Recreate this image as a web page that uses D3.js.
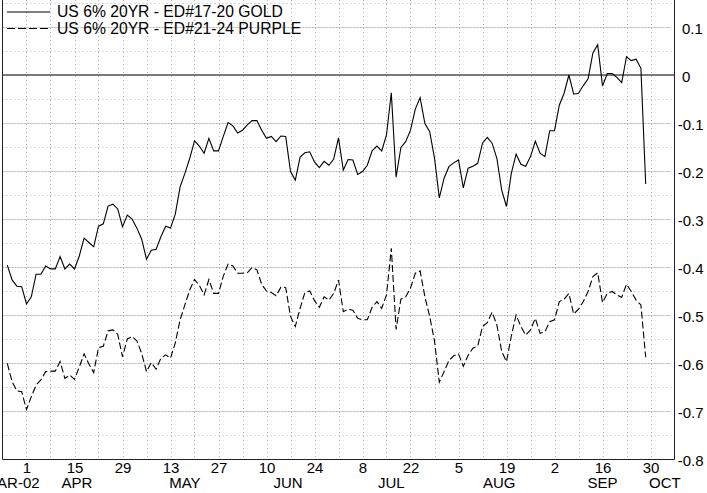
<!DOCTYPE html>
<html>
<head>
<meta charset="utf-8">
<script src="https://cdn.jsdelivr.net/npm/d3@7"></script>
<style>
body { margin: 0; background: #fff; }
svg { display: block; font-family: "Liberation Sans", Arial, sans-serif; }
</style>
</head>
<body>
<svg width="707" height="493"></svg>
<script>
// first value is Tue 26 Mar 2002, one value per weekday after that
var firstDay = "2002-03-26";

var gold = [
  -0.396, -0.427, -0.440, -0.441, -0.477, -0.462, -0.415, -0.415, -0.398, -0.404,
  -0.404, -0.378, -0.404, -0.394, -0.404, -0.377, -0.340, -0.349, -0.358, -0.315,
  -0.310, -0.273, -0.269, -0.279, -0.316, -0.292, -0.300, -0.319, -0.342, -0.384,
  -0.365, -0.363, -0.337, -0.315, -0.319, -0.290, -0.233, -0.205, -0.174, -0.137,
  -0.148, -0.163, -0.132, -0.158, -0.158, -0.128, -0.099, -0.106, -0.121, -0.115,
  -0.104, -0.095, -0.095, -0.115, -0.132, -0.128, -0.139, -0.127, -0.128, -0.201,
  -0.219, -0.171, -0.162, -0.160, -0.181, -0.193, -0.180, -0.188, -0.175, -0.131,
  -0.198, -0.176, -0.177, -0.207, -0.201, -0.188, -0.158, -0.148, -0.158, -0.125,
  -0.037, -0.213, -0.151, -0.139, -0.115, -0.071, -0.047, -0.101, -0.118, -0.173,
  -0.256, -0.215, -0.191, -0.183, -0.177, -0.235, -0.194, -0.190, -0.184, -0.142,
  -0.130, -0.142, -0.174, -0.240, -0.274, -0.205, -0.165, -0.186, -0.190, -0.170,
  -0.138, -0.163, -0.170, -0.116, -0.116, -0.063, -0.038, 0.000, -0.040, -0.038,
  -0.022, -0.008, 0.046, 0.063, -0.023, 0.003, 0.003, -0.005, -0.016, 0.038,
  0.030, 0.033, 0.014, -0.227
];

var purple = [
  -0.601, -0.639, -0.658, -0.660, -0.697, -0.670, -0.646, -0.635, -0.618, -0.617,
  -0.617, -0.597, -0.632, -0.625, -0.634, -0.608, -0.581, -0.602, -0.620, -0.568,
  -0.565, -0.533, -0.531, -0.540, -0.587, -0.550, -0.545, -0.554, -0.580, -0.618,
  -0.599, -0.613, -0.590, -0.583, -0.590, -0.558, -0.510, -0.479, -0.448, -0.426,
  -0.438, -0.458, -0.426, -0.455, -0.455, -0.419, -0.394, -0.398, -0.413, -0.413,
  -0.412, -0.401, -0.406, -0.436, -0.450, -0.453, -0.460, -0.442, -0.443, -0.503,
  -0.524, -0.486, -0.453, -0.450, -0.470, -0.484, -0.462, -0.469, -0.455, -0.427,
  -0.493, -0.488, -0.490, -0.507, -0.510, -0.510, -0.484, -0.472, -0.486, -0.458,
  -0.361, -0.530, -0.467, -0.462, -0.444, -0.413, -0.408, -0.462, -0.503, -0.554,
  -0.640, -0.618, -0.595, -0.585, -0.581, -0.607, -0.584, -0.569, -0.565, -0.524,
  -0.516, -0.494, -0.521, -0.576, -0.597, -0.544, -0.500, -0.524, -0.542, -0.531,
  -0.507, -0.538, -0.535, -0.514, -0.510, -0.472, -0.467, -0.455, -0.498, -0.488,
  -0.472, -0.451, -0.420, -0.412, -0.474, -0.455, -0.451, -0.458, -0.463, -0.436,
  -0.451, -0.469, -0.479, -0.588
];

var tickDays = ["2002-04-01", "2002-04-15", "2002-04-29", "2002-05-13", "2002-05-27",
  "2002-06-10", "2002-06-24", "2002-07-08", "2002-07-22", "2002-08-05", "2002-08-19",
  "2002-09-02", "2002-09-16", "2002-09-30"];
var monthNames = ["MAR-02", "APR", "MAY", "JUN", "JUL", "AUG", "SEP", "OCT"];
var yTicks = [0.1, 0, -0.1, -0.2, -0.3, -0.4, -0.5, -0.6, -0.7, -0.8];
var seriesNames = ["US 6% 20YR - ED#17-20 GOLD", "US 6% 20YR - ED#21-24 PURPLE"];

var svg = d3.select("svg"),
    width = +svg.attr("width"),
    height = +svg.attr("height");

var parse = d3.timeParse("%Y-%m-%d");
var origin = parse("2002-03-25");   // monday at the left edge

// weekday index: trading days are evenly spaced, weekends dropped
function wday(d) {
  return d3.timeMonday.count(origin, d) * 5 + (d.getDay() + 6) % 7;
}

var x = d3.scaleLinear().domain([0, 140]).range([2.5, 674.5]);
var y = d3.scaleLinear().domain([-0.8, 0.2]).range([459, -21]);

var dates = [];
var day = parse(firstDay);
while (dates.length < gold.length) {
  if (day.getDay() % 6 !== 0) dates.push(day);
  day = d3.timeDay.offset(day, 1);
}

// grid
var grid = svg.append("g");
d3.range(-15, 4).forEach(function(k) {
  if (k === 0) return;
  grid.append("line")
      .attr("x1", x(0)).attr("x2", x(140) - 3)
      .attr("y1", Math.round(y(k * 0.05)) + 0.5).attr("y2", Math.round(y(k * 0.05)) + 0.5)
      .attr("stroke", "#b4b4b4")
      .attr("stroke-dasharray", k % 2 === 0 ? "2,1" : "1,3");
});
d3.range(5, 140, 5).forEach(function(i) {
  grid.append("line")
      .attr("x1", Math.round(x(i)) + 0.5).attr("x2", Math.round(x(i)) + 0.5)
      .attr("y1", 0).attr("y2", y(-0.8))
      .attr("stroke", "#b4b4b4")
      .attr("stroke-dasharray", "1,3");
});

// zero line
svg.append("line")
    .attr("x1", x(0)).attr("x2", x(140))
    .attr("y1", y(0)).attr("y2", y(0))
    .attr("stroke", "#7a7a7a")
    .attr("stroke-width", 2);

// frame (top is cut off)
svg.append("path")
    .attr("d", "M" + x(0) + ",0V" + (y(-0.8) + 0.5) + "H" + x(140) + "V0")
    .attr("fill", "none")
    .attr("stroke", "#222")
    .attr("stroke-width", 1);

var line = d3.line()
    .x(function(d, i) { return x(wday(dates[i])); })
    .y(function(d) { return y(d); });

svg.append("path")
    .datum(gold)
    .attr("d", line)
    .attr("fill", "none")
    .attr("stroke", "#000")
    .attr("stroke-width", 1.1);

svg.append("path")
    .datum(purple)
    .attr("d", line)
    .attr("fill", "none")
    .attr("stroke", "#000")
    .attr("stroke-width", 1.1)
    .attr("stroke-dasharray", "7,3");

// x axis: day numbers
var dayLabel = {};
tickDays.forEach(function(s) { dayLabel[wday(parse(s))] = +s.slice(8); });

var xg = svg.append("g")
    .attr("transform", "translate(0," + y(-0.8) + ")")
    .call(d3.axisBottom(x)
      .tickValues(tickDays.map(function(s) { return wday(parse(s)); }))
      .tickSize(0)
      .tickFormat(function(v) { return dayLabel[v]; }));
xg.select(".domain").remove();
xg.selectAll("text")
    .attr("y", 14.3).attr("dy", 0)
    .attr("fill", "#000")
    .style("font-size", "15px")
    .style("font-family", "Liberation Sans, Arial, sans-serif");

// month labels, centred on the visible part of each month
monthNames.forEach(function(name, m) {
  var start = new Date(2002, 2 + m, 1),
      end = new Date(2002, 3 + m, 0);
  var days = d3.timeDay.range(start, d3.timeDay.offset(end, 1))
      .filter(function(d) { return d.getDay() % 6 !== 0; })
      .map(wday)
      .filter(function(i) { return i >= 0 && i <= 140; });
  var c = (d3.min(days) + d3.max(days)) / 2;
  svg.append("text")
      .attr("x", x(c))
      .attr("y", 488.3)
      .attr("text-anchor", "middle")
      .style("font-size", "15px")
      .text(name);
});

// y axis on the right
var yg = svg.append("g")
    .attr("transform", "translate(" + x(140) + ",0)")
    .call(d3.axisRight(y)
      .tickValues(yTicks)
      .tickSize(0)
      .tickFormat(function(v) {
        if (v === 0) return "0";
        return (v < 0 ? "-" : "") + Math.abs(v).toFixed(1);
      }));
yg.select(".domain").remove();
yg.selectAll("text")
    .attr("x", function(v) { return v < 0 ? 3.2 : 7.5; })
    .attr("dy", "0.45em")
    .attr("fill", "#000")
    .style("font-size", "15px")
    .style("font-family", "Liberation Sans, Arial, sans-serif");

// legend
var legend = svg.append("g");
seriesNames.forEach(function(name, i) {
  var ly = 12 + i * 16.5;
  legend.append("line")
      .attr("x1", 7).attr("x2", 50)
      .attr("y1", ly).attr("y2", ly)
      .attr("stroke", "#000")
      .attr("stroke-width", 1.1)
      .attr("stroke-dasharray", i === 1 ? "8,3" : null);
  legend.append("text")
      .attr("x", 57)
      .attr("y", ly + 5)
      .style("font-size", "15.7px")
      .text(name);
});
</script>
</body>
</html>
